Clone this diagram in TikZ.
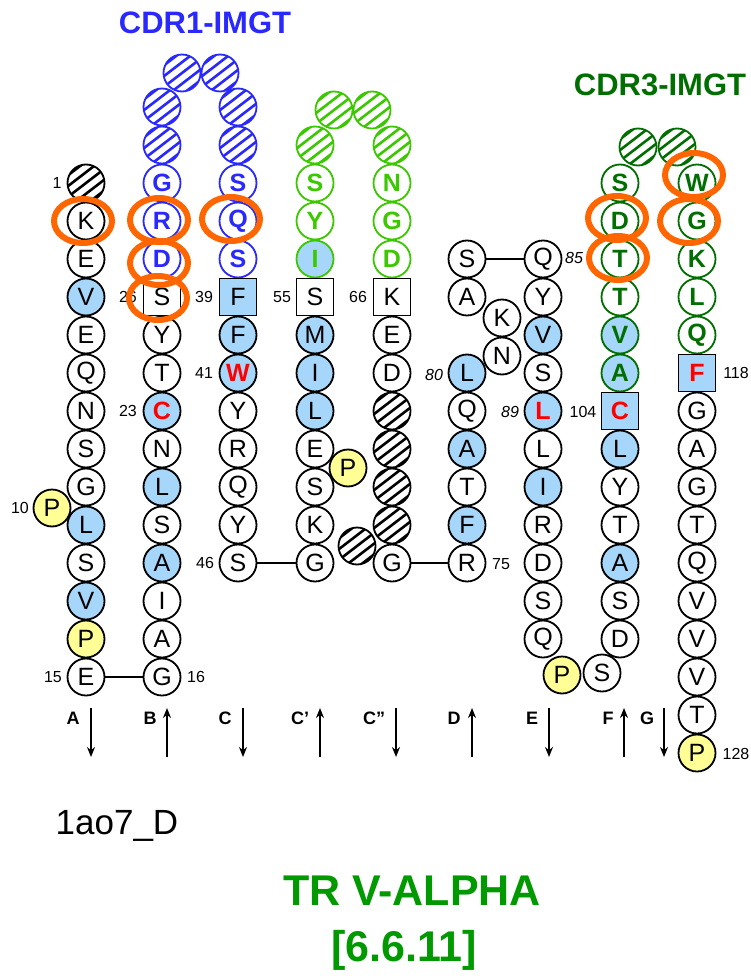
\documentclass[tikz,border=0pt]{standalone}
\usepackage{fontspec}
\setmainfont{Liberation Sans}
\usetikzlibrary{arrows.meta,calc,shapes.geometric}
\definecolor{cdrone}{RGB}{40,40,255}
\definecolor{cdrtwo}{RGB}{60,200,0}
\definecolor{cdrthree}{RGB}{0,110,0}
\definecolor{hydc}{RGB}{166,214,250}
\definecolor{proc}{RGB}{255,255,150}
\definecolor{hiorange}{RGB}{255,102,0}
\definecolor{titlegreen}{RGB}{0,153,0}
\newcommand\resrm{\fontsize{25}{25}\selectfont}
\newcommand\resbf{\fontsize{25}{25}\selectfont\bfseries}
\tikzset{
  res/.style={circle, draw=black, line width=1.8pt, minimum size=37pt, inner sep=0pt, fill=white, font=\resrm},
  hatch/.style={path picture={\foreach \d in {-42,-28,...,42}
      \draw[draw=#1,line width=2.6pt] ($(path picture bounding box.center)+(\d-26,20)$) -- ++(52,-40);}},
  pl/.style={res},
  hy/.style={res, fill=hydc},
  pr/.style={res, fill=proc},
  cy/.style={res, fill=hydc, text=red, font=\resbf},
  h0/.style={res, hatch=black},
  h1/.style={res, draw=cdrone, hatch=cdrone},
  h2/.style={res, draw=cdrtwo, hatch=cdrtwo},
  h3/.style={res, draw=cdrthree, hatch=cdrthree},
  g1/.style={res, draw=cdrone, text=cdrone, font=\resbf},
  g2/.style={res, draw=cdrtwo, text=cdrtwo, font=\resbf},
  g2y/.style={g2, fill=hydc},
  g3/.style={res, draw=cdrthree, text=cdrthree, font=\resbf},
  g3y/.style={g3, fill=hydc},
  sq/.style={res, rectangle, minimum size=37pt},
  sqy/.style={sq, fill=hydc},
  sqc/.style={sqy, text=red, font=\resbf},
  num/.style={font=\fontsize{16}{16}\selectfont, inner sep=0pt},
  numi/.style={font=\fontsize{16}{16}\selectfont\itshape, inner sep=0pt},
  strand/.style={font=\fontsize{18}{18}\selectfont\bfseries, inner sep=0pt},
  arr/.style={line width=2pt, -{Stealth[length=10pt,width=8pt]}},
  link/.style={line width=2pt},
  hl/.style={ellipse, draw=hiorange, line width=6pt, minimum width=58pt, minimum height=44pt, inner sep=0pt},
}
\begin{document}
\begin{tikzpicture}[x=1pt,y=-1pt]
\useasboundingbox (0,0) rectangle (751,976);

% titles
\node[text=cdrone, font=\fontsize{31}{31}\selectfont\bfseries] (t1) at (205,23) {CDR1-IMGT};
\node[text=cdrthree, font=\fontsize{31}{31}\selectfont\bfseries] (t3) at (660,85) {CDR3-IMGT};

% column A
\foreach \n/\t/\s in {0//h0,1/K/pl,2/E/pl,3/V/hy,4/E/pl,5/Q/pl,6/N/pl,7/S/pl,8/G/pl,9/L/hy,10/S/pl,11/V/hy,12/P/pr,13/E/pl}
  \node[\s] (a\n) at (86,{183+38*\n}) {\t};
\node[pr] (aP) at (52,508) {P};

% column B
\node[h1] (bx3) at (182,73) {};
\node[h1] (bx2) at (162,107) {};
\node[h1] (bx1) at (162,145) {};
\foreach \n/\t/\s in {0/G/g1,1/R/g1,2/D/g1,3/S/sq,4/Y/pl,5/T/pl,6/C/cy,7/N/pl,8/L/hy,9/S/pl,10/A/hy,11/I/pl,12/A/pl,13/G/pl}
  \node[\s] (b\n) at (162,{183+38*\n}) {\t};

% column C
\node[h1] (cx3) at (220,73) {};
\node[h1] (cx2) at (238,107) {};
\node[h1] (cx1) at (238,145) {};
\foreach \n/\t/\s in {0/S/g1,1/Q/g1,2/S/g1,3/F/sqy,4/F/hy,5/W/cy,6/Y/pl,7/R/pl,8/Q/pl,9/Y/pl,10/S/pl}
  \node[\s] (c\n) at (238,{183+38*\n}) {\t};

% column C'
\node[h2] (px2) at (334,110) {};
\node[h2] (px1) at (315,145) {};
\foreach \n/\t/\s in {0/S/g2,1/Y/g2,2/I/g2y,3/S/sq,4/M/hy,5/I/hy,6/L/hy,7/E/pl,8/S/pl,9/K/pl,10/G/pl}
  \node[\s] (p\n) at (315,{183+38*\n}) {\t};
\node[pr] (pP) at (348,468) {P};

% column C''
\node[h2] (qx2) at (372,110) {};
\node[h2] (qx1) at (392,145) {};
\node[h0] (qh) at (357,546) {};
\foreach \n/\t/\s in {0/N/g2,1/G/g2,2/D/g2,3/K/sq,4/E/pl,5/D/pl,6//h0,7//h0,8//h0,9//h0,10/G/pl}
  \node[\s] (q\n) at (392,{183+38*\n}) {\t};

% column D
\foreach \n/\t/\s in {2/S/pl,3/A/pl,5/L/hy,6/Q/pl,7/A/hy,8/T/pl,9/F/hy,10/R/pl}
  \node[\s] (d\n) at (467,{183+38*\n}) {\t};
\node[pl] (dK) at (502,318) {K};
\node[pl] (dN) at (502,356) {N};

% column E
\foreach \n/\t/\s in {2/Q/pl,3/Y/pl,4/V/hy,5/S/pl,6/L/cy,7/L/pl,8/I/hy,9/R/pl,10/D/pl,11/S/pl,12/Q/pl}
  \node[\s] (e\n) at (543,{183+38*\n}) {\t};
\node[pr] (eP) at (562,675) {P};
\node[pl] (eS) at (602,673) {S};

% column F
\node[h3] (fx) at (638,147) {};
\foreach \n/\t/\s in {0/S/g3,1/D/g3,2/T/g3,3/T/g3,4/V/g3y,5/A/g3y,6/C/sqc,7/L/hy,8/Y/pl,9/T/pl,10/A/hy,11/S/pl,12/D/pl}
  \node[\s] (f\n) at (620,{183+38*\n}) {\t};

% column G
\node[h3] (gx) at (677,147) {};
\foreach \n/\t/\s in {0/W/g3,1/G/g3,2/K/g3,3/L/g3,4/Q/g3,5/F/sqc,6/G/pl,7/A/pl,8/G/pl,9/T/pl,10/Q/pl,11/V/pl,12/V/pl,13/V/pl,14/T/pl,15/P/pr}
  \node[\s] (g\n) at (697,{183+38*\n}) {\t};

% links
\draw[link] (a13) -- (b13);
\draw[link] (c10) -- (p10);
\draw[link] (q10) -- (d10);
\draw[link] (d2) -- (e2);

% numbers
\node[num] (n1) at (57,183) {1};
\node[num] (n10) at (20,508) {10};
\node[num] (n15) at (53,677) {15};
\node[num] (n16) at (196,677) {16};
\node[num] (n26) at (128,297) {26};
\node[num] (n23) at (128,411) {23};
\node[num] (n39) at (204,297) {39};
\node[num] (n41) at (204,373) {41};
\node[num] (n46) at (205,563) {46};
\node[num] (n55) at (282,297) {55};
\node[num] (n66) at (358,297) {66};
\node[numi] (n80) at (434,375) {80};
\node[num] (n75) at (501,564) {75};
\node[numi] (n85) at (574,258) {85};
\node[numi] (n89) at (510,412) {89};
\node[num] (n104) at (583,412) {104};
\node[num] (n118) at (736,373) {118};
\node[num] (n128) at (736,754) {128};

% strands
\foreach \l/\lx/\ax/\dir in {A/73/91/d, B/150/167/u, C/225/243/d, C'/300/320/u, C''/374/396/d, D/454/472/u, E/532/549/d, F/608/624/u, G/647/664/d}{
  \node[strand] (s\lx) at (\lx,718) {\l};
  \coordinate (st\lx) at (\ax,708);
  \coordinate (sb\lx) at (\ax,757);
}
\foreach \lx in {73,225,374,532,647} \draw[arr] (st\lx) -- (sb\lx);
\foreach \lx in {150,300,454,608} \draw[arr] (sb\lx) -- (st\lx);

% highlight ellipses
\node[hl] (o1) at (83,221) {};
\node[hl] (o2) at (159,220) {};
\node[hl] (o3) at (159,263) {};
\node[hl] (o4) at (158,298) {};
\node[hl] (o5) at (231,219) {};
\node[hl] (o6) at (694,175) {};
\node[hl] (o7) at (689,221) {};
\node[hl] (o8) at (617,218) {};
\node[hl] (o9) at (618,258) {};

% bottom texts
\node[font=\fontsize{35}{35}\selectfont] (pdb) at (117,826) {1ao7\_D};
\node[text=titlegreen, font=\fontsize{43}{43}\selectfont\bfseries] (tt1) at (412,891) {TR V-ALPHA};
\node[text=titlegreen, font=\fontsize{43}{43}\selectfont\bfseries] (tt2) at (404,950) {[6.6.11]};
\end{tikzpicture}
\end{document}
